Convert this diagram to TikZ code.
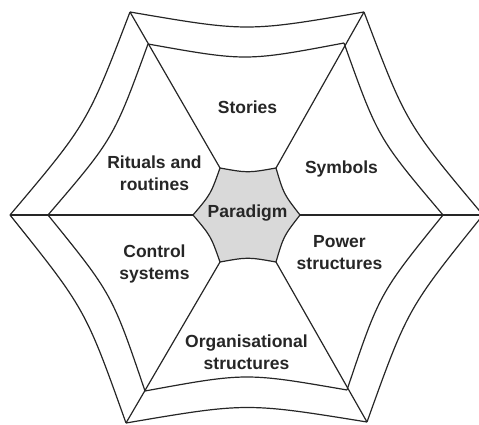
\documentclass[tikz,border=0pt]{standalone}
\usepackage{fontspec}
\setmainfont{Liberation Sans}
\usetikzlibrary{calc}
\begin{document}
\begin{tikzpicture}[x=1pt,y=-1pt,
  web/.style={draw=black!85, line width=1.2pt, line join=miter},
  lbl/.style={text=black!85, font=\bfseries\fontsize{17.5}{22}\selectfont, align=center, inner sep=0pt}]
\useasboundingbox (0,0) rectangle (479,425);
\clip (0,0) rectangle (479,425);
\coordinate (O) at (246,216);
% outer ring vertices
\coordinate (o1) at (483,215);
\coordinate (o2) at (364,12);
\coordinate (o3) at (130,12);
\coordinate (o4) at (10,215);
\coordinate (o5) at (126,423);
\coordinate (o6) at (367,422);
% inner ring vertices
\coordinate (i1) at (443,215);
\coordinate (i2) at (344,43);
\coordinate (i3) at (148,44);
\coordinate (i4) at (48,215);
\coordinate (i5) at (145,391);
\coordinate (i6) at (347,390);
% central hexagon vertices
\coordinate (c1) at (300,215);
\coordinate (c2) at (276,168);
\coordinate (c3) at (220,168);
\coordinate (c4) at (193,215);
\coordinate (c5) at (220,262);
\coordinate (c6) at (276,262);
% paradigm
\path[web, fill=gray!30]
  (c1) .. controls ($(c1)!0.5!(c2)!5pt!(O)$) .. (c2)
       .. controls ($(c2)!0.5!(c3)!5pt!(O)$) .. (c3)
       .. controls ($(c3)!0.5!(c4)!5pt!(O)$) .. (c4)
       .. controls ($(c4)!0.5!(c5)!5pt!(O)$) .. (c5)
       .. controls ($(c5)!0.5!(c6)!5pt!(O)$) .. (c6)
       .. controls ($(c6)!0.5!(c1)!5pt!(O)$) .. (c1) -- cycle;
% spokes
\foreach \k in {1,...,6} \draw[web] (c\k) -- (o\k);
% rings
\foreach \a/\b in {1/2,2/3,3/4,4/5,5/6,6/1} {
  \draw[web] (o\a) .. controls ($(o\a)!0.5!(o\b)!20pt!(O)$) .. (o\b);
  \draw[web] (i\a) .. controls ($(i\a)!0.5!(i\b)!18pt!(O)$) .. (i\b);
}
% labels
\node[lbl] (stories) at (247.5,107) {Stories};
\node[lbl] (symbols) at (341.5,169) {Symbols};
\node[lbl] (rituals) at (154.5,173.5) {Rituals and\\routines};
\node[lbl] (paradigm) at (247.5,213) {Paradigm};
\node[lbl] (control) at (154.5,264) {Control\\systems};
\node[lbl] (power) at (339.5,253) {Power\\structures};
\node[lbl] (org) at (246.5,352) {Organisational\\structures};
\end{tikzpicture}
\end{document}
